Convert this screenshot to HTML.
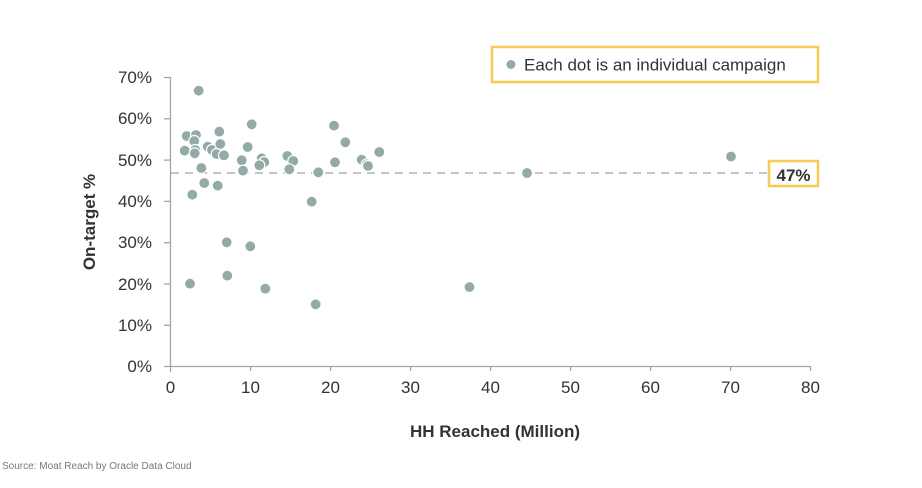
<!DOCTYPE html><html><head><style>body{margin:0;background:#fff}svg{display:block;font-family:"Liberation Sans",sans-serif}</style></head><body>
<svg width="922" height="488" viewBox="0 0 922 488">
<g stroke="#a9a39e" stroke-width="1.3">
<line x1="170.5" y1="77" x2="170.5" y2="372"/><line x1="164" y1="366.5" x2="811" y2="366.5"/>
<line x1="164" y1="77.5" x2="170" y2="77.5"/><line x1="164" y1="118.8" x2="170" y2="118.8"/><line x1="164" y1="160.1" x2="170" y2="160.1"/><line x1="164" y1="201.4" x2="170" y2="201.4"/><line x1="164" y1="242.7" x2="170" y2="242.7"/><line x1="164" y1="284" x2="170" y2="284"/><line x1="164" y1="325.3" x2="170" y2="325.3"/>
<line x1="250.5" y1="366" x2="250.5" y2="371"/><line x1="330.5" y1="366" x2="330.5" y2="371"/><line x1="410.5" y1="366" x2="410.5" y2="371"/><line x1="490.5" y1="366" x2="490.5" y2="371"/><line x1="570.5" y1="366" x2="570.5" y2="371"/><line x1="650.5" y1="366" x2="650.5" y2="371"/><line x1="730.5" y1="366" x2="730.5" y2="371"/><line x1="810.5" y1="366" x2="810.5" y2="371"/>
</g>
<g font-size="17" fill="#333" text-anchor="end">
<text x="152" y="83">70%</text><text x="152" y="124">60%</text><text x="152" y="166">50%</text><text x="152" y="207">40%</text><text x="152" y="248">30%</text><text x="152" y="290">20%</text><text x="152" y="331">10%</text><text x="152" y="372">0%</text>
</g>
<g font-size="17" fill="#333" text-anchor="middle">
<text x="170.5" y="393">0</text><text x="250.5" y="393">10</text><text x="330.5" y="393">20</text><text x="410.5" y="393">30</text><text x="490.5" y="393">40</text><text x="570.5" y="393">50</text><text x="650.5" y="393">60</text><text x="730.5" y="393">70</text><text x="810.5" y="393">80</text>
</g>
<text x="495" y="437" font-size="17" font-weight="bold" fill="#333" text-anchor="middle">HH Reached (Million)</text>
<text transform="translate(95,222) rotate(-90)" font-size="17" font-weight="bold" fill="#333" text-anchor="middle">On-target %</text>
<text x="2" y="469" font-size="10" fill="#777">Source: Moat Reach by Oracle Data Cloud</text>
<line x1="171" y1="173" x2="768" y2="173" stroke="#888" stroke-width="1" stroke-dasharray="8,6"/>
<g fill="#93aaa8" stroke="#fff" stroke-width="1.2">
<circle cx="198.7" cy="90.7" r="5.5"/><circle cx="186.7" cy="136" r="5.5"/><circle cx="196" cy="135" r="5.5"/><circle cx="194.3" cy="141" r="5.5"/><circle cx="219.3" cy="131.7" r="5.5"/><circle cx="251.7" cy="124.3" r="5.5"/><circle cx="184.7" cy="150.7" r="5.5"/><circle cx="195.3" cy="150" r="5.5"/><circle cx="194.7" cy="153.3" r="5.5"/><circle cx="207.7" cy="146.7" r="5.5"/><circle cx="212" cy="150" r="5.5"/><circle cx="216.7" cy="154" r="5.5"/><circle cx="220.3" cy="144" r="5.5"/><circle cx="224" cy="155.3" r="5.5"/><circle cx="247.7" cy="147" r="5.5"/><circle cx="241.7" cy="160.3" r="5.5"/><circle cx="261.7" cy="158.3" r="5.5"/><circle cx="264.3" cy="162" r="5.5"/><circle cx="259.3" cy="165.3" r="5.5"/><circle cx="243" cy="170.7" r="5.5"/><circle cx="201.3" cy="168" r="5.5"/><circle cx="204.3" cy="183" r="5.5"/><circle cx="192.3" cy="194.7" r="5.5"/><circle cx="217.7" cy="185.7" r="5.5"/><circle cx="287.3" cy="156" r="5.5"/><circle cx="293.3" cy="161" r="5.5"/><circle cx="289.3" cy="169.3" r="5.5"/><circle cx="318.3" cy="172.3" r="5.5"/><circle cx="311.7" cy="201.7" r="5.5"/><circle cx="334" cy="125.7" r="5.5"/><circle cx="345.3" cy="142.3" r="5.5"/><circle cx="335" cy="162.3" r="5.5"/><circle cx="379.3" cy="152" r="5.5"/><circle cx="361.7" cy="159.7" r="5.5"/><circle cx="366.7" cy="164.3" r="5.5"/><circle cx="368" cy="166" r="5.5"/><circle cx="226.7" cy="242.3" r="5.5"/><circle cx="250.3" cy="246.3" r="5.5"/><circle cx="190" cy="283.7" r="5.5"/><circle cx="227.3" cy="275.7" r="5.5"/><circle cx="265.3" cy="288.7" r="5.5"/><circle cx="315.7" cy="304.3" r="5.5"/><circle cx="469.5" cy="287" r="5.5"/><circle cx="527" cy="173" r="5.5"/><circle cx="731" cy="156.5" r="5.5"/>
</g>
<rect x="769" y="161" width="49" height="25" fill="#fff" stroke="#f7c955" stroke-width="2.5"/>
<text x="793.5" y="181" font-size="17" font-weight="bold" fill="#333" text-anchor="middle">47%</text>
<rect x="492" y="47" width="326" height="35" fill="#fff" stroke="#f7c955" stroke-width="2.5"/>
<circle cx="511" cy="64.5" r="4.5" fill="#93aaa8"/>
<text x="524" y="70.5" font-size="17" fill="#333">Each dot is an individual campaign</text>
</svg></body></html>
